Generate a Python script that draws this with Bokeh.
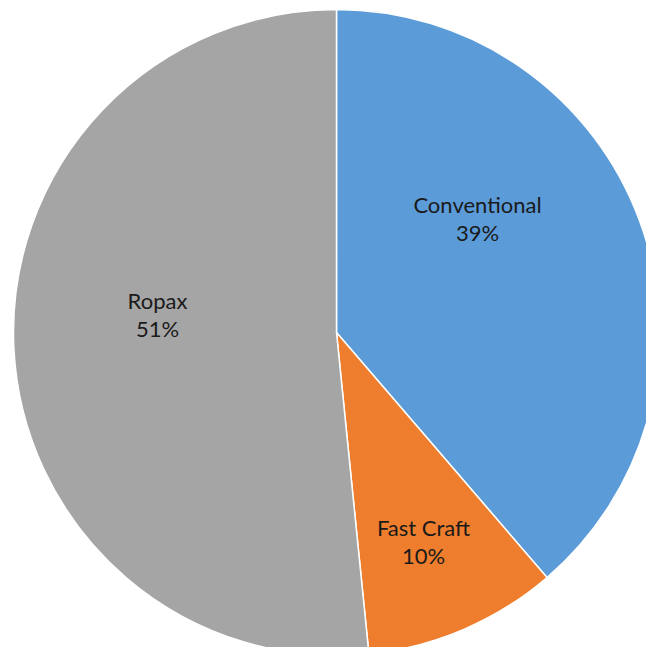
import math
from bokeh.plotting import figure
from bokeh.models import ColumnDataSource
from bokeh.core.properties import value
from bokeh.embed import file_html
from bokeh.resources import INLINE

categories = ["Conventional", "Fast Craft", "Ropax"]
shares = [38.7, 9.7, 51.6]
pct_labels = ["39%", "10%", "51%"]
colors = ["#5A9BD8", "#EE7E2D", "#A5A5A5"]

# layout constants (label anchors, pixel units relative to pie centre)
label_x = [141, 87, -179]
label_y = [114, -209, 18]

total = sum(shares)
starts, ends = [], []
cum = 0.0
for s in shares:
    starts.append(math.pi / 2 - 2 * math.pi * cum / total)
    cum += s
    ends.append(math.pi / 2 - 2 * math.pi * cum / total)

src = ColumnDataSource(dict(cat=categories, start=starts, end=ends, color=colors,
                            lx=label_x, ly=label_y, pct=pct_labels))

W, H = 646, 647
CX, CY = 336, 332
p = figure(width=W, height=H, x_range=(-CX, W - CX), y_range=(-(H - CY), CY),
           output_backend="svg", toolbar_location=None, min_border=0)
p.axis.visible = False
p.grid.visible = False
p.outline_line_color = None
p.background_fill_color = "white"

p.wedge(x=0, y=0, radius=323, start_angle="start", end_angle="end", direction="clock",
        fill_color="color", line_color="white", line_width=1.5, source=src)

p.text(x="lx", y="ly", text="cat", source=src, text_align="center", text_baseline="middle",
       text_font=value("Lato"), text_font_size="22px", text_color="#1a1a1a", y_offset=-14)
p.text(x="lx", y="ly", text="pct", source=src, text_align="center", text_baseline="middle",
       text_font=value("Lato"), text_font_size="22px", text_color="#1a1a1a", y_offset=14)

open("out.html", "w").write(file_html(p, INLINE))
